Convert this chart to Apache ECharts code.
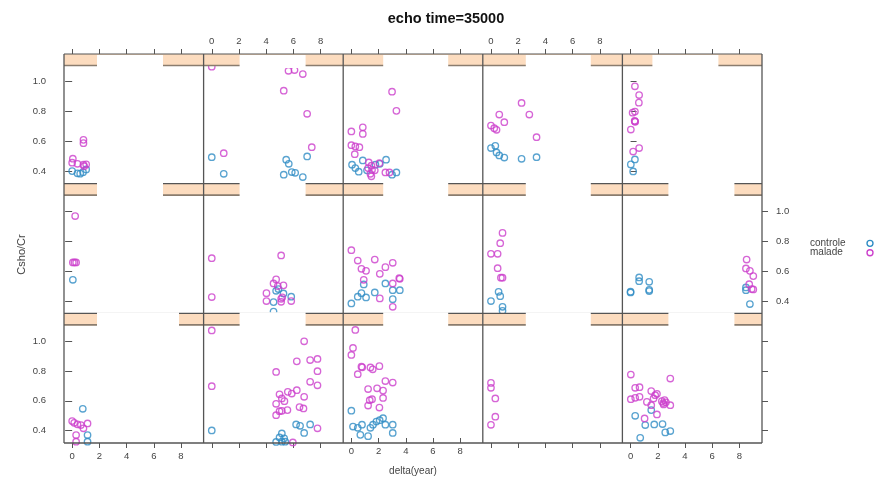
<!DOCTYPE html>
<html><head><meta charset="utf-8">
<script src="https://cdn.jsdelivr.net/npm/echarts@6/dist/echarts.min.js"></script>
<style>html,body{margin:0;padding:0;background:#fff}#c{width:879px;height:477px}</style>
</head><body><div id="c"></div>
<script>
// ---- data ----
const X_TICKS = [0, 2, 4, 6, 8];
const Y_TICKS = [0.4, 0.6, 0.8, 1.0];
const GROUPS = ['controle', 'malade'];
const TITLE = 'echo time=35000';
const X_NAME = 'delta(year)';
const Y_NAME = 'Csho/Cr';

const r1c1_controle = [[0,0.402],[0.39,0.387],[0.59,0.385],[1.03,0.413],[0.8,0.395]];
const r1c1_malade = [[0.83,0.611],[0.83,0.589],[0.05,0.485],[0,0.458],[0.39,0.451],[0.83,0.445],[1.03,0.447],[0.88,0.435]];
const r1c2_controle = [[0,0.495],[0.88,0.384],[5.47,0.478],[5.66,0.451],[7.01,0.5],[5.29,0.378],[5.88,0.396],[6.13,0.391],[6.69,0.362]];
const r1c2_malade = [[0,1.1],[5.64,1.073],[6.08,1.078],[6.69,1.051],[5.29,0.94],[7.01,0.785],[7.35,0.562],[0.88,0.522]];
const r1c3_controle = [[0.05,0.445],[0.29,0.422],[0.54,0.398],[0.84,0.473],[1.77,0.445],[2.09,0.451],[2.55,0.478],[2.99,0.378],[3.31,0.393],[1.15,0.407]];
const r1c3_malade = [[2.99,0.933],[3.31,0.805],[0,0.667],[0.84,0.695],[0.84,0.651],[0,0.575],[0.29,0.567],[0.59,0.562],[0.25,0.515],[1.28,0.46],[1.47,0.438],[1.23,0.422],[1.52,0.411],[1.72,0.407],[1.4,0.384],[1.47,0.367],[2.06,0.455],[2.5,0.393],[2.8,0.393]];
const r1c4_controle = [[0.32,0.571],[0,0.556],[0.41,0.527],[0.61,0.507],[0.98,0.493],[2.25,0.484],[3.35,0.495]];
const r1c4_malade = [[2.25,0.858],[2.82,0.78],[0.61,0.78],[0.98,0.729],[0,0.707],[0.24,0.689],[0.41,0.678],[3.35,0.629]];
const r1c5_controle = [[0.32,0.48],[0.02,0.447],[0.19,0.4]];
const r1c5_malade = [[0.32,0.969],[0.63,0.911],[0.61,0.86],[0.15,0.793],[0.32,0.8],[0.3,0.738],[0.34,0.732],[0.32,0.735],[0.02,0.68],[0.63,0.556],[0.19,0.533]];

const r2c1_controle = [[0.05,0.542]];
const r2c1_malade = [[0.22,0.969],[0.05,0.658],[0.29,0.658],[0.17,0.658]];
const r2c2_controle = [[4.73,0.469],[5.27,0.451],[5.84,0.429],[4.54,0.393],[4.9,0.48],[4.54,0.33]];
const r2c2_malade = [[0,0.687],[0,0.427],[5.1,0.705],[4.73,0.545],[4.54,0.518],[4.85,0.5],[5.27,0.505],[4.02,0.453],[5.18,0.425],[5.1,0.415],[4.02,0.4],[5.1,0.395],[5.84,0.4]];
const r2c3_controle = [[0.91,0.511],[2.5,0.518],[0.74,0.453],[0.47,0.429],[1.08,0.424],[1.72,0.458],[3.04,0.473],[3.56,0.473],[0,0.384],[3.04,0.413]];
const r2c3_malade = [[0,0.74],[0.47,0.671],[1.72,0.678],[3.04,0.656],[2.5,0.627],[0.74,0.616],[1.08,0.602],[2.09,0.582],[0.91,0.542],[3.56,0.549],[3.52,0.553],[3.04,0.518],[2.09,0.418],[3.04,0.362]];
const r2c4_controle = [[0.56,0.462],[0.68,0.433],[0,0.4],[0.85,0.362],[0.85,0.335]];
const r2c4_malade = [[0.85,0.856],[0.68,0.787],[0,0.716],[0.49,0.716],[0.49,0.62],[0.73,0.556],[0.85,0.556]];
const r2c5_controle = [[0,0.458],[0.63,0.558],[0.63,0.533],[1.37,0.529],[1.37,0.467],[1.37,0.475],[0,0.463],[8.48,0.473],[8.48,0.491],[8.77,0.38]];
const r2c5_malade = [[8.53,0.678],[8.48,0.618],[8.77,0.602],[9.02,0.567],[8.72,0.513],[9.02,0.478],[8.9,0.48]];

const r3c1_controle = [[0.78,0.547],[1.13,0.371],[1.13,0.327]];
const r3c1_malade = [[0,0.465],[0.15,0.453],[0.39,0.443],[0.64,0.438],[0.83,0.416],[1.13,0.449],[0.29,0.371],[0.29,0.327]];
const r3c2_controle = [[0,0.402],[6.2,0.442],[6.49,0.433],[7.23,0.442],[6.79,0.385],[5.15,0.382],[4.98,0.355],[5.32,0.349],[4.73,0.325],[5.15,0.327],[5.4,0.327]];
const r3c2_malade = [[0,1.071],[0,0.698],[6.79,0.998],[6.25,0.864],[7.23,0.873],[7.77,0.88],[7.77,0.798],[4.73,0.793],[7.23,0.727],[7.77,0.704],[6.25,0.671],[5.59,0.66],[5.88,0.649],[4.98,0.644],[6.79,0.627],[5.34,0.598],[5.15,0.616],[4.73,0.58],[5.56,0.538],[5.15,0.533],[4.98,0.531],[4.73,0.504],[6.45,0.558],[6.74,0.549],[7.77,0.416],[5.96,0.322]];
const r3c3_controle = [[0,0.509],[0.12,0.398],[0.47,0.389],[0.78,0.411],[1.4,0.389],[1.59,0.411],[1.84,0.433],[2.08,0.442],[2.33,0.456],[2.5,0.411],[3.04,0.411],[3.04,0.353],[0.66,0.34],[1.23,0.331]];
const r3c3_malade = [[0.29,1.073],[0.12,0.947],[0,0.898],[0.74,0.816],[0.8,0.812],[1.4,0.811],[1.57,0.798],[2.06,0.82],[0.47,0.764],[2.5,0.716],[3.04,0.705],[1.23,0.66],[1.89,0.665],[2.33,0.649],[1.52,0.589],[1.35,0.582],[2.33,0.598],[1.23,0.545],[2.06,0.531]];
const r3c4_controle = [];
const r3c4_malade = [[0,0.72],[0,0.687],[0.32,0.616],[0.32,0.494],[0,0.44]];
const r3c5_controle = [[0.34,0.5],[1.52,0.538],[1.08,0.438],[1.74,0.442],[2.35,0.445],[2.55,0.389],[2.92,0.398],[0.71,0.353]];
const r3c5_malade = [[0.02,0.776],[2.92,0.749],[0.34,0.687],[0.66,0.691],[1.52,0.665],[1.81,0.638],[1.94,0.647],[0.02,0.611],[0.34,0.62],[0.66,0.627],[1.2,0.593],[1.52,0.571],[1.69,0.616],[2.3,0.598],[2.5,0.605],[2.43,0.576],[2.92,0.571],[2.4,0.585],[2.6,0.59],[1.94,0.509],[1.03,0.482]];

const PANELS = [
  [[r1c1_controle, r1c1_malade],[r1c2_controle, r1c2_malade],[r1c3_controle, r1c3_malade],[r1c4_controle, r1c4_malade],[r1c5_controle, r1c5_malade]],
  [[r2c1_controle, r2c1_malade],[r2c2_controle, r2c2_malade],[r2c3_controle, r2c3_malade],[r2c4_controle, r2c4_malade],[r2c5_controle, r2c5_malade]],
  [[r3c1_controle, r3c1_malade],[r3c2_controle, r3c2_malade],[r3c3_controle, r3c3_malade],[r3c4_controle, r3c4_malade],[r3c5_controle, r3c5_malade]]
];

// ---- layout / style ----
const L = 64, R = 762, T = 54, B = 443, NC = 5, NR = 3, STRIP = 12;
const colW = (R - L) / NC, rowH = (B - T) / NR;
const XMIN = -0.6, XMAX = 9.66, YMIN = 0.318, YMAX = 1.105;
const COLORS = ['#2f8cc4', '#cc3fcc'];
const FONT = 'Liberation Sans, Arial, sans-serif';
const PEACH = '#fcdcbf', FRAME = '#555';
const LEG_X = 810, LEG_Y = 243.3, LEG_DY = 9.4, LEG_SYM_X = 870;
// white patches over strips [startOffset, endOffset] per row/col
const WHITE = [
  [[33,99],[36,102],[40,105],[43,108],[30,96]],
  [[33,99],[36,102],[40,105],[43,108],[46,112]],
  [[33,115],[36,102],[40,105],[43,108],[46,112]]
];

const grids = [], xAxes = [], yAxes = [], series = [];
const lbl = {color:'#444', fontSize:9.5, fontFamily:FONT};
const tickStyle = {color:FRAME, width:1};
for (let r = 0; r < NR; r++) for (let c = 0; c < NC; c++) {
  const g = grids.length;
  grids.push({left: L + c*colW, top: T + r*rowH + STRIP, width: colW, height: rowH - STRIP, show:false});
  const xi = xAxes.length, yi = yAxes.length;
  const xb = {gridIndex:g, type:'value', min:XMIN, max:XMAX, position:'bottom', show: r === NR-1,
    axisLine:{show:false}, splitLine:{show:false},
    axisTick:{show:true, length:5, customValues:X_TICKS, lineStyle:tickStyle},
    axisLabel:{show: c % 2 === 0, customValues:X_TICKS, margin:8, ...lbl}};
  if (r === NR-1 && c === 2) Object.assign(xb, {name:X_NAME, nameLocation:'middle', nameGap:28, nameTextStyle:{color:'#444', fontSize:10, fontFamily:FONT}});
  xAxes.push(xb);
  if (r === 0) xAxes.push({gridIndex:g, type:'value', min:XMIN, max:XMAX, position:'top', offset:STRIP,
    axisLine:{show:false}, splitLine:{show:false},
    axisTick:{show:true, length:5, customValues:X_TICKS, lineStyle:tickStyle},
    axisLabel:{show: c % 2 === 1, customValues:X_TICKS, margin:8, ...lbl}});
  const yl = {gridIndex:g, type:'value', min:YMIN, max:YMAX, position:'left', show: c === 0,
    axisLine:{show:false}, splitLine:{show:false},
    axisTick:{show:true, length:7, customValues:Y_TICKS, lineStyle:tickStyle},
    axisLabel:{show: r % 2 === 0, customValues:Y_TICKS, margin:18, formatter:v => v.toFixed(1), ...lbl}};
  if (r === 1 && c === 0) Object.assign(yl, {name:Y_NAME, nameLocation:'middle', nameGap:37, nameRotate:90, nameTextStyle:{color:'#444', fontSize:11, fontFamily:FONT}});
  yAxes.push(yl);
  if (c === NC-1) yAxes.push({gridIndex:g, type:'value', min:YMIN, max:YMAX, position:'right',
    axisLine:{show:false}, splitLine:{show:false},
    axisTick:{show:true, length:6, customValues:Y_TICKS, lineStyle:tickStyle},
    axisLabel:{show: r === 1, customValues:Y_TICKS, margin:14, formatter:v => v.toFixed(1), ...lbl}});
  GROUPS.forEach((name, k) => {
    series.push({type:'scatter', name, xAxisIndex:xi, yAxisIndex:yi, data:PANELS[r][c][k],
      symbol:'circle', symbolSize:6.4, clip:true, z:2,
      itemStyle:{color:'rgba(255,255,255,0)', borderColor:COLORS[k], borderWidth:1.35},
      emphasis:{disabled:true}});
  });
}

// strips and frame
const graphic = [];
for (let r = 0; r < NR; r++) {
  const sy = T + r*rowH;
  for (let c = 0; c < NC; c++) {
    const sx = L + c*colW;
    graphic.push({type:'rect', z:10, shape:{x:sx, y:sy, width:colW, height:STRIP}, style:{fill:PEACH}});
  }
  graphic.push({type:'line', z:11, shape:{x1:L, y1:sy, x2:R, y2:sy}, style:{stroke:FRAME, lineWidth:1.2}});
  graphic.push({type:'line', z:11, shape:{x1:L, y1:sy+STRIP-0.5, x2:R, y2:sy+STRIP-0.5}, style:{stroke:'#8a7c6e', lineWidth:1.6}});
  for (let c = 0; c < NC; c++) {
    const sx = L + c*colW, w = WHITE[r][c];
    graphic.push({type:'rect', z:12, shape:{x:sx + w[0], y:sy + (r === 0 ? 1 : -1), width:w[1]-w[0], height:STRIP + (r === 0 ? 1 : 2)}, style:{fill:'#fff'}});
  }
}
for (let c = 0; c <= NC; c++) {
  const x = L + c*colW;
  graphic.push({type:'line', z:13, shape:{x1:x, y1:T, x2:x, y2:B}, style:{stroke:FRAME, lineWidth:1.3}});
}
graphic.push({type:'line', z:13, shape:{x1:L, y1:B, x2:R, y2:B}, style:{stroke:FRAME, lineWidth:1.3}});
graphic.push({type:'text', z:13, x:446, y:19, style:{text:TITLE, font:'bold 14.5px ' + FONT, fill:'#111', textAlign:'center', textVerticalAlign:'middle'}});
// key (legend): text then symbol on the right
GROUPS.forEach((name, k) => {
  graphic.push({type:'text', z:13, x:LEG_X, y:LEG_Y + k*LEG_DY, style:{text:name, font:'10px ' + FONT, fill:'#444', textAlign:'left', textVerticalAlign:'middle'}});
  graphic.push({type:'circle', z:13, shape:{cx:LEG_SYM_X, cy:LEG_Y + k*LEG_DY, r:3}, style:{fill:'none', stroke:COLORS[k], lineWidth:1.35}});
});

const chart = echarts.init(document.getElementById('c'), null, {renderer:'canvas'});
chart.setOption({
  animation:false,
  backgroundColor:'#fff',
  grid:grids, xAxis:xAxes, yAxis:yAxes, series, graphic
});
</script></body></html>
